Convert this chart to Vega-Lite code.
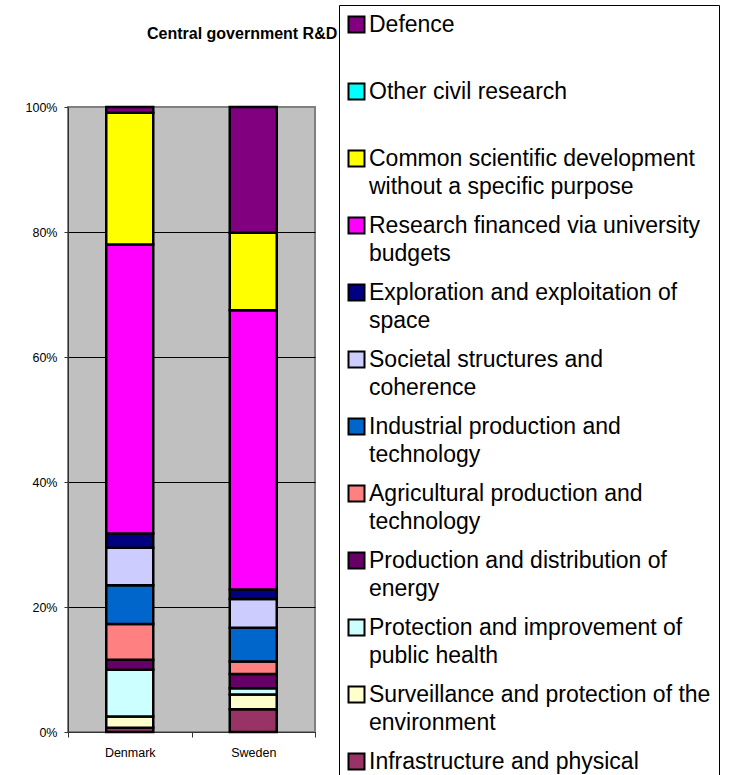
{
  "$schema": "https://vega.github.io/schema/vega-lite/v6.json",
  "autosize": {"type": "none"},
  "width": 247,
  "height": 625,
  "padding": {"left": 68, "top": 107, "right": 428, "bottom": 43},
  "background": "white",
  "title": {
    "text": "Central government R&D",
    "anchor": "start",
    "frame": "group",
    "dx": 79,
    "dy": 50,
    "offset": 0,
    "baseline": "alphabetic",
    "font": "Liberation Sans",
    "fontSize": 16,
    "fontWeight": "bold",
    "color": "black"
  },
  "data": {
    "values": [
      {"country": "Denmark", "category": "Infrastructure and physical\nplanning", "rank": 1, "value": 0.67},
      {"country": "Denmark", "category": "Surveillance and protection of the\nenvironment", "rank": 2, "value": 1.8},
      {"country": "Denmark", "category": "Protection and improvement of\npublic health", "rank": 3, "value": 7.5},
      {"country": "Denmark", "category": "Production and distribution of\nenergy", "rank": 4, "value": 1.6},
      {"country": "Denmark", "category": "Agricultural production and\ntechnology", "rank": 5, "value": 5.7},
      {"country": "Denmark", "category": "Industrial production and\ntechnology", "rank": 6, "value": 6.2},
      {"country": "Denmark", "category": "Societal structures and\ncoherence", "rank": 7, "value": 6.0},
      {"country": "Denmark", "category": "Exploration and exploitation of\nspace", "rank": 8, "value": 2.3},
      {"country": "Denmark", "category": "Research financed via university\nbudgets", "rank": 9, "value": 46.2},
      {"country": "Denmark", "category": "Common scientific development\nwithout a specific purpose", "rank": 10, "value": 21.1},
      {"country": "Denmark", "category": "Other civil research", "rank": 11, "value": 0},
      {"country": "Denmark", "category": "Defence", "rank": 12, "value": 0.9},
      {"country": "Sweden", "category": "Infrastructure and physical\nplanning", "rank": 1, "value": 3.65},
      {"country": "Sweden", "category": "Surveillance and protection of the\nenvironment", "rank": 2, "value": 2.35},
      {"country": "Sweden", "category": "Protection and improvement of\npublic health", "rank": 3, "value": 1.0},
      {"country": "Sweden", "category": "Production and distribution of\nenergy", "rank": 4, "value": 2.3},
      {"country": "Sweden", "category": "Agricultural production and\ntechnology", "rank": 5, "value": 2.0},
      {"country": "Sweden", "category": "Industrial production and\ntechnology", "rank": 6, "value": 5.4},
      {"country": "Sweden", "category": "Societal structures and\ncoherence", "rank": 7, "value": 4.6},
      {"country": "Sweden", "category": "Exploration and exploitation of\nspace", "rank": 8, "value": 1.5},
      {"country": "Sweden", "category": "Research financed via university\nbudgets", "rank": 9, "value": 44.7},
      {"country": "Sweden", "category": "Common scientific development\nwithout a specific purpose", "rank": 10, "value": 12.4},
      {"country": "Sweden", "category": "Other civil research", "rank": 11, "value": 0},
      {"country": "Sweden", "category": "Defence", "rank": 12, "value": 20.1}
    ]
  },
  "mark": {"type": "bar", "size": 47, "stroke": "black", "strokeWidth": 2.5},
  "encoding": {
    "x": {
      "field": "country",
      "type": "nominal",
      "scale": {"paddingInner": 0, "paddingOuter": 0},
      "axis": {
        "title": null,
        "labelAngle": 0,
        "tickBand": "extent",
        "tickSize": 5,
        "tickColor": "#333333",
        "domainColor": "#333333",
        "labelPadding": 9,
        "labelFont": "Liberation Sans",
        "labelFontSize": 12.5,
        "labelColor": "black",
        "grid": false
      }
    },
    "y": {
      "field": "value",
      "type": "quantitative",
      "stack": "normalize",
      "scale": {"domain": [0, 1], "nice": false},
      "axis": {
        "title": null,
        "values": [0, 0.2, 0.4, 0.6, 0.8, 1],
        "format": ".0%",
        "tickSize": 4,
        "tickColor": "#333333",
        "domainColor": "#333333",
        "labelPadding": 7,
        "labelFont": "Liberation Sans",
        "labelFontSize": 12.5,
        "labelColor": "black",
        "grid": true,
        "gridColor": {"condition": {"test": "datum.value == 1", "value": "#808080"}, "value": "black"},
        "gridOpacity": 1,
        "gridWidth": 1
      }
    },
    "color": {
      "field": "category",
      "type": "nominal",
      "scale": {
        "domain": [
          "Defence",
          "Other civil research",
          "Common scientific development\nwithout a specific purpose",
          "Research financed via university\nbudgets",
          "Exploration and exploitation of\nspace",
          "Societal structures and\ncoherence",
          "Industrial production and\ntechnology",
          "Agricultural production and\ntechnology",
          "Production and distribution of\nenergy",
          "Protection and improvement of\npublic health",
          "Surveillance and protection of the\nenvironment",
          "Infrastructure and physical\nplanning"
        ],
        "range": ["#800080", "#00FFFF", "#FFFF00", "#FF00FF", "#000080", "#CCCCFF", "#0066CC", "#FF8080", "#660066", "#CCFFFF", "#FFFFCC", "#993366"]
      },
      "legend": {
        "title": null,
        "orient": "none",
        "legendX": 271,
        "legendY": -102,
        "padding": 8,
        "strokeColor": "black",
        "fillColor": "white",
        "symbolType": "square",
        "symbolSize": 256,
        "symbolStrokeColor": "black",
        "symbolStrokeWidth": 2,
        "symbolOffset": -2,
        "labelFont": "Liberation Sans",
        "labelFontSize": 23,
        "labelColor": "black",
        "labelLimit": 400,
        "labelOffset": 1,
        "rowPadding": 14,
        "labelExpr": "length(split(datum.label, '\\n')) > 1 ? split(datum.label, '\\n') : [datum.label, '']",
        "encode": {
          "labels": {"update": {"lineHeight": {"value": 28}}}
        }
      }
    },
    "order": {"field": "rank", "type": "quantitative", "sort": "ascending"}
  },
  "config": {
    "view": {"fill": "#C0C0C0", "stroke": "#808080", "strokeWidth": 2},
    "font": "Liberation Sans"
  }
}
